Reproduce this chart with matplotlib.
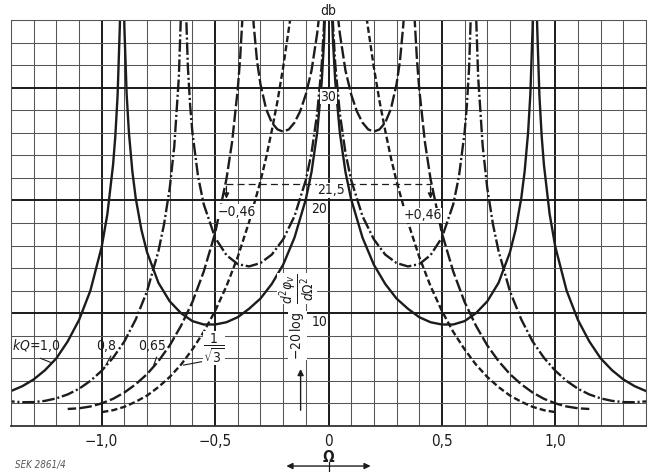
import numpy as np
import matplotlib.pyplot as plt

plt.rcParams['font.family'] = ['DejaVu Sans']
plt.rcParams['font.stretch'] = 'condensed'
plt.rcParams['lines.scale_dashes'] = False

# values, right half (Omega >= 0); the chart is symmetric
# kQ = 1.0 (solid)
om_a_in = [0.012, 0.02, 0.03, 0.05, 0.075, 0.1, 0.15, 0.2, 0.25, 0.3, 0.35, 0.4, 0.45, 0.5,
           0.55, 0.6, 0.65, 0.7, 0.75, 0.8, 0.825, 0.85, 0.865, 0.88, 0.89, 0.9, 0.905]
db_a_in = [38.4, 34.0, 30.5, 26.0, 22.5, 20.1, 16.7, 14.3, 12.6, 11.3, 10.4, 9.65, 9.2, 9.0,
           9.0, 9.3, 10.0, 11.05, 12.7, 15.4, 17.4, 20.2, 22.6, 26.0, 29.4, 35.3, 41.1]
om_a_out = [0.915, 0.92, 0.93, 0.94, 0.95, 0.975, 1.0, 1.05, 1.1, 1.15, 1.2, 1.25, 1.3, 1.35, 1.4]
db_a_out = [41.7, 35.5, 29.3, 25.7, 23.15, 18.8, 15.9, 12.0, 9.4, 7.5, 6.0, 4.95, 4.13, 3.53, 3.1]

# kQ = 0.8 (dash-dot)
om_b_in = [0.015, 0.02, 0.03, 0.05, 0.075, 0.1, 0.15, 0.2, 0.25, 0.3, 0.35, 0.4, 0.45, 0.5,
           0.55, 0.575, 0.6, 0.61, 0.62, 0.63]
db_b_in = [38.0, 35.55, 32.0, 27.7, 24.2, 21.8, 18.6, 16.55, 15.2, 14.45, 14.15, 14.35, 15.15, 16.7,
           19.65, 22.1, 26.0, 28.4, 31.8, 37.9]
om_b_out = [0.645, 0.65, 0.66, 0.68, 0.7, 0.725, 0.75, 0.8, 0.85, 0.9, 0.95, 1.0, 1.05, 1.1,
            1.15, 1.2, 1.25, 1.3, 1.35, 1.4]
db_b_out = [42.6, 36.9, 30.9, 24.8, 21.1, 17.9, 15.5, 11.95, 9.45, 7.5, 6.05, 4.9, 4.0, 3.3,
            2.8, 2.45, 2.23, 2.12, 2.11, 2.18]

# kQ = 0.65 (long dash)
om_c_in = [0.03, 0.04, 0.05, 0.075, 0.1, 0.125, 0.15, 0.175, 0.2, 0.225, 0.25, 0.275, 0.3,
           0.315, 0.33, 0.34]
db_c_in = [39.1, 36.6, 34.8, 31.5, 29.4, 27.9, 26.9, 26.3, 26.1, 26.3, 26.9, 28.1, 30.3,
           32.35, 35.6, 39.1]
om_c_out = [0.37, 0.38, 0.39, 0.4, 0.425, 0.45, 0.5, 0.55, 0.6, 0.65, 0.7, 0.75, 0.8, 0.85,
            0.9, 0.95, 1.0, 1.05, 1.1, 1.15]
db_c_out = [41.4, 36.0, 32.5, 29.9, 25.2, 21.9, 17.1, 13.7, 11.0, 8.9, 7.15, 5.75, 4.6, 3.7,
            2.97, 2.41, 2.01, 1.73, 1.57, 1.51]

# kQ = 1/sqrt(3) (short dash)
om_d = [0.15, 0.17, 0.2, 0.225, 0.25, 0.275, 0.3, 0.35, 0.4, 0.45, 0.5, 0.55, 0.6, 0.65, 0.7,
        0.75, 0.8, 0.85, 0.9, 0.95, 1.0]
db_d = [39.1, 35.9, 31.8, 28.8, 26.2, 23.8, 21.7, 18.1, 15.0, 12.4, 10.2, 8.35, 6.8, 5.45, 4.35,
        3.45, 2.7, 2.15, 1.7, 1.4, 1.23]

x_ticks = [-1.0, -0.5, 0.0, 0.5, 1.0]
x_labels = ['\u22121,0', '\u22120,5', '0', '0,5', '1,0']
y_ticks = [10, 20, 30]
mark_db = 21.5
mark_om = 0.45

ink = '#1c1c1c'
fig = plt.figure(figsize=(6.54, 4.72), dpi=100, facecolor='white')
ax = fig.add_axes([11/654, 46/472, 635/654, 406/472])
ax.set_xlim(-1.4, 1.4)
ax.set_ylim(0, 36)

ax.set_xticks(x_ticks)
ax.set_xticklabels(x_labels, fontsize=11)
ax.set_xticks(np.arange(-14, 15) / 10, minor=True)
ax.set_yticks(y_ticks)
ax.set_yticklabels([])
ax.set_yticks(np.arange(0, 37, 2), minor=True)
ax.tick_params(which='both', length=0, pad=6, colors=ink)
ax.grid(which='minor', color='#555555', lw=0.75)
ax.grid(which='major', color='#1a1a1a', lw=1.4)
ax.set_axisbelow(True)
for s in ax.spines.values():
    s.set_color('#555555')
    s.set_linewidth(0.75)
ax.spines['bottom'].set_linewidth(1.3)
ax.spines['bottom'].set_color('#333333')


def branch(om, db, **kw):
    om = np.asarray(om)
    ax.plot(om, db, color=ink, lw=1.7, **kw)
    ax.plot(-om, db, color=ink, lw=1.7, **kw)


branch(om_a_in, db_a_in, ls='-')
branch(om_a_out, db_a_out, ls='-')
dd = (0, (9, 2, 1.5, 2))
branch(om_b_in, db_b_in, ls=dd)
branch(om_b_out, db_b_out, ls=dd)
ld = (0, (9, 2.4))
branch(om_c_in, db_c_in, ls=ld)
branch(om_c_out, db_c_out, ls=ld)
branch(om_d, db_d, ls=(0, (4.5, 2.2)))

# 21,5 dB marker with arrows at +-0,46
ax.plot([-mark_om, mark_om], [mark_db, mark_db], color=ink, lw=0.9, ls=(0, (5, 3)))
for sx in (-1, 1):
    ax.annotate('', xy=(sx * mark_om, 19.9), xytext=(sx * mark_om, mark_db),
                arrowprops=dict(arrowstyle='-|>', color=ink, lw=0.9, mutation_scale=8))
ax.text(-0.405, 19.0, '\u22120,46', fontsize=10, ha='center', va='center', color=ink,
        bbox=dict(fc='white', ec='none', pad=0.3))
ax.text(0.414, 18.7, '+0,46', fontsize=10, ha='center', va='center', color=ink,
        bbox=dict(fc='white', ec='none', pad=0.3))
ax.text(0.012, 20.9, '21,5', fontsize=10, ha='center', va='center', color=ink,
        bbox=dict(fc='white', ec='none', pad=0.3))

# y tick labels inside the chart
ax.text(-0.005, 9.2, '10', fontsize=10, ha='right', va='center', color=ink,
        bbox=dict(fc='white', ec='none', pad=0.3))
ax.text(-0.005, 19.2, '20', fontsize=10, ha='right', va='center', color=ink,
        bbox=dict(fc='white', ec='none', pad=0.3))
ax.text(0.0, 29.2, '30', fontsize=10, ha='center', va='center', color=ink,
        bbox=dict(fc='white', ec='none', pad=0.3))
ax.text(0.0, 36.8, 'db', fontsize=10, ha='center', va='center', color=ink, clip_on=False)

# y axis label (two parts) with arrow
ax.text(-0.137, 8.0, r'$-20\,\log$', fontsize=10, rotation=90,
        ha='center', va='center', color=ink, bbox=dict(fc='white', ec='none', pad=0.1))
ax.text(-0.14, 12.2, r'$\frac{d^2\varphi_v}{d\Omega^2}$', fontsize=14, rotation=90,
        ha='center', va='center', color=ink, bbox=dict(fc='white', ec='none', pad=0.1))
ax.annotate('', xy=(-0.123, 5.3), xytext=(-0.123, 1.15),
            arrowprops=dict(arrowstyle='-|>', color=ink, lw=1.0, mutation_scale=9))

# curve labels with leaders
ax.text(-1.29, 7.1, r'$kQ$=1,0', fontsize=10, ha='center', va='center', color=ink)
ax.plot([-1.27, -1.22], [6.0, 5.6], color=ink, lw=0.8)
ax.text(-0.982, 7.1, '0,8', fontsize=10, ha='center', va='center', color=ink)
ax.plot([-0.96, -0.982], [6.2, 5.4], color=ink, lw=0.8)
ax.text(-0.78, 7.1, '0,65', fontsize=10, ha='center', va='center', color=ink)
ax.plot([-0.758, -0.771], [6.1, 5.4], color=ink, lw=0.8)
ax.text(-0.505, 6.9, r'$\dfrac{1}{\sqrt{3}}$', fontsize=10, ha='center', va='center', color=ink,
        bbox=dict(fc='white', ec='none', pad=0.1))
ax.plot([-0.56, -0.639], [5.7, 5.4], color=ink, lw=0.8)

# Omega label and double arrow below the axis
ax.text(0.0, -2.75, r'$\mathbf{\Omega}$', fontsize=11, ha='center', va='center', color=ink,
        clip_on=False)
ax.annotate('', xy=(-0.198, -3.55), xytext=(0.198, -3.55), xycoords='data',
            arrowprops=dict(arrowstyle='<|-|>', color=ink, lw=1.0, mutation_scale=9),
            annotation_clip=False)
ax.plot([0, 0], [-3.2, -4.1], color=ink, lw=0.9, clip_on=False)

fig.text(0.023, 0.004, 'SEK 2861/4', fontsize=7, style='italic', color='#555555', va='bottom')

fig.savefig('out.png', dpi=100, facecolor='white')
